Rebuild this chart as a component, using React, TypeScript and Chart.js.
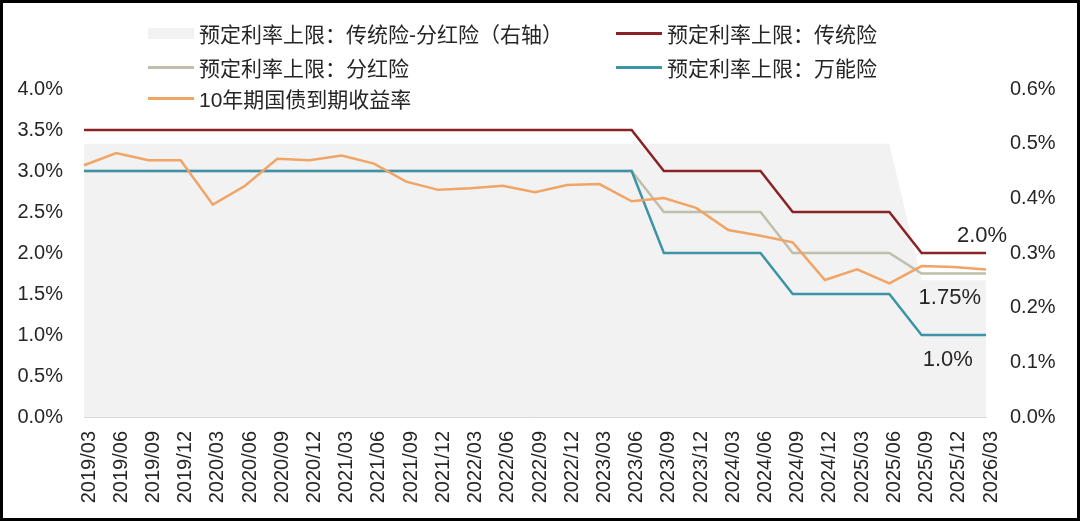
import { useEffect, useRef } from 'react'
import { Chart, registerables, type ChartConfiguration, type Plugin } from 'chart.js'

Chart.register(...registerables)

// quarterly categories
const quarters = [
  '2019/03', '2019/06', '2019/09', '2019/12',
  '2020/03', '2020/06', '2020/09', '2020/12',
  '2021/03', '2021/06', '2021/09', '2021/12',
  '2022/03', '2022/06', '2022/09', '2022/12',
  '2023/03', '2023/06', '2023/09', '2023/12',
  '2024/03', '2024/06', '2024/09', '2024/12',
  '2025/03', '2025/06', '2025/09', '2025/12',
  '2026/03',
]

// 预定利率上限 (%)
const traditional = [
  3.5, 3.5, 3.5, 3.5, 3.5, 3.5, 3.5, 3.5, 3.5, 3.5, 3.5, 3.5, 3.5, 3.5, 3.5, 3.5, 3.5, 3.5,
  3.0, 3.0, 3.0, 3.0,
  2.5, 2.5, 2.5, 2.5,
  2.0, 2.0, 2.0,
]
const dividend = [
  3.0, 3.0, 3.0, 3.0, 3.0, 3.0, 3.0, 3.0, 3.0, 3.0, 3.0, 3.0, 3.0, 3.0, 3.0, 3.0, 3.0, 3.0,
  2.5, 2.5, 2.5, 2.5,
  2.0, 2.0, 2.0, 2.0,
  1.75, 1.75, 1.75,
]
const universal = [
  3.0, 3.0, 3.0, 3.0, 3.0, 3.0, 3.0, 3.0, 3.0, 3.0, 3.0, 3.0, 3.0, 3.0, 3.0, 3.0, 3.0, 3.0,
  2.0, 2.0, 2.0, 2.0,
  1.5, 1.5, 1.5, 1.5,
  1.0, 1.0, 1.0,
]
// 10年期国债到期收益率 (%)
const cgb10y = [
  3.07, 3.22, 3.13, 3.13,
  2.59, 2.82, 3.15, 3.13,
  3.19, 3.09, 2.87, 2.77,
  2.79, 2.82, 2.74, 2.83,
  2.84, 2.63, 2.67, 2.55,
  2.28, 2.21, 2.13, 1.67,
  1.80, 1.63, 1.84, 1.83,
  1.80,
]
// 传统险-分红险 spread (%), right axis
const spread = traditional.map((v, i) => +(v - dividend[i]).toFixed(2))

const leftTicks = { min: 0, max: 4, step: 0.5 }
const rightTicks = { min: 0, max: 0.6, step: 0.1 }

// end-of-line value labels: [dataset key, category index, text]
const endLabels: [string, number, string][] = [
  ['trad', 28, '2.0%'],
  ['div', 27, '1.75%'],
  ['uni', 27, '1.0%'],
]

const FONT = '"Liberation Sans", Arial, "Noto Sans CJK SC", sans-serif'
const TEXT = '#262626'

const C_TRAD = '#8a2424'
const C_DIV = '#bfbfac'
const C_UNI = '#3e93a8'
const C_CGB = '#f0a466'
const C_AREA = '#f2f2f2'

const labelOffsets: Record<string, [number, number]> = {
  trad: [-4, -17],
  div: [-4, 24],
  uni: [-6, 25],
}

const endLabelPlugin: Plugin<'line'> = {
  id: 'endLabels',
  afterDatasetsDraw(chart) {
    const ctx = chart.ctx
    ctx.save()
    ctx.font = `22px ${FONT}`
    ctx.fillStyle = TEXT
    ctx.textAlign = 'center'
    ctx.textBaseline = 'middle'
    for (const [key, idx, text] of endLabels) {
      const dsIndex = chart.data.datasets.findIndex((d: any) => d.key === key)
      if (dsIndex < 0) continue
      const pt = chart.getDatasetMeta(dsIndex).data[idx]
      if (!pt) continue
      const [dx, dy] = labelOffsets[key]
      ctx.fillText(text, pt.x + dx, pt.y + dy)
    }
    ctx.restore()
  },
}

function LegendItem({ left, top, kind, color, label }: { left: number; top: number; kind: 'box' | 'line'; color: string; label: string }) {
  return (
    <div style={{ position: 'absolute', left, top: top - 15, height: 30, display: 'flex', alignItems: 'center', whiteSpace: 'nowrap' }}>
      <div
        style={{
          width: 46,
          height: kind === 'box' ? 11 : 3,
          background: color,
          marginRight: 5,
        }}
      />
      <span style={{ fontSize: 21, color: TEXT, fontFamily: FONT }}>{label}</span>
    </div>
  )
}

export default function App() {
  const canvasRef = useRef<HTMLCanvasElement>(null)

  useEffect(() => {
    if (!canvasRef.current) return
    const config: ChartConfiguration<'line'> = {
      type: 'line',
      data: {
        labels: quarters,
        datasets: [
          { key: 'cgb', label: '10年期国债到期收益率', data: cgb10y, borderColor: C_CGB, borderWidth: 2.5, pointRadius: 0, yAxisID: 'y', order: 0 } as any,
          { key: 'uni', label: '预定利率上限：万能险', data: universal, borderColor: C_UNI, borderWidth: 2.5, pointRadius: 0, yAxisID: 'y', order: 1 } as any,
          { key: 'trad', label: '预定利率上限：传统险', data: traditional, borderColor: C_TRAD, borderWidth: 2.5, pointRadius: 0, yAxisID: 'y', order: 2 } as any,
          { key: 'div', label: '预定利率上限：分红险', data: dividend, borderColor: C_DIV, borderWidth: 2.5, pointRadius: 0, yAxisID: 'y', order: 3 } as any,
          {
            key: 'spread',
            label: '预定利率上限：传统险-分红险（右轴）',
            data: spread,
            borderColor: 'rgba(0,0,0,0)',
            backgroundColor: C_AREA,
            borderWidth: 0,
            pointRadius: 0,
            fill: 'origin',
            yAxisID: 'y2',
            order: 10,
          } as any,
        ],
      },
      options: {
        responsive: true,
        maintainAspectRatio: false,
        animation: false,
        layout: { padding: { top: 86, left: 0, right: 0, bottom: 0 } },
        scales: {
          x: {
            offset: false,
            grid: { display: false, drawTicks: false },
            border: { display: true, color: '#d9d9d9', width: 1 },
            ticks: {
              autoSkip: false,
              minRotation: 90,
              maxRotation: 90,
              padding: 14,
              labelOffset: 5,
              color: TEXT,
              font: { size: 20, family: FONT },
            },
            afterFit: (s: any) => { s.height = 101 },
          },
          y: {
            position: 'left',
            min: leftTicks.min,
            max: leftTicks.max,
            grid: { display: false, drawTicks: false },
            border: { display: false },
            ticks: {
              stepSize: leftTicks.step,
              padding: 21,
              color: TEXT,
              font: { size: 20, family: FONT },
              callback: (v) => Number(v).toFixed(1) + '%',
            },
            afterFit: (s: any) => { s.width = 81 },
          },
          y2: {
            position: 'right',
            min: rightTicks.min,
            max: rightTicks.max,
            grid: { display: false, drawTicks: false },
            border: { display: false },
            ticks: {
              stepSize: rightTicks.step,
              padding: 24,
              color: TEXT,
              font: { size: 20, family: FONT },
              callback: (v) => Number(v).toFixed(1) + '%',
            },
            afterFit: (s: any) => { s.width = 91 },
          },
        },
        plugins: {
          legend: { display: false },
          tooltip: { enabled: false },
        },
      },
      plugins: [endLabelPlugin],
    }
    const chart = new Chart(canvasRef.current, config)
    return () => chart.destroy()
  }, [])

  return (
    <div
      style={{
        position: 'absolute',
        left: 0,
        top: 0,
        width: 1080,
        height: 521,
        boxSizing: 'border-box',
        border: '3px solid #000',
        background: '#fff',
        overflow: 'hidden',
      }}
    >
      <div style={{ position: 'absolute', left: 0, top: 0, width: 1074, height: 515 }}>
        <canvas ref={canvasRef} />
      </div>
      <LegendItem left={145} top={30} kind="box" color={C_AREA} label="预定利率上限：传统险-分红险（右轴）" />
      <LegendItem left={613} top={30} kind="line" color={C_TRAD} label="预定利率上限：传统险" />
      <LegendItem left={145} top={64} kind="line" color={C_DIV} label="预定利率上限：分红险" />
      <LegendItem left={613} top={64} kind="line" color={C_UNI} label="预定利率上限：万能险" />
      <LegendItem left={145} top={95} kind="line" color={C_CGB} label="10年期国债到期收益率" />
    </div>
  )
}
